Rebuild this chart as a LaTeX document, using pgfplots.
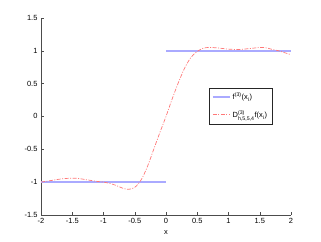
\documentclass[border=0pt]{standalone}
\usepackage{amsmath}
\usepackage{fontspec}
\setmainfont{Liberation Sans}
\usepackage{pgfplots}
\pgfplotsset{compat=1.18}
\definecolor{lblue}{RGB}{170,170,255}
\definecolor{lred}{RGB}{255,120,120}
\begin{document}
\begin{tikzpicture}
\begin{axis}[
  scale only axis,
  width=250bp, height=197bp,
  xmin=-2, xmax=2, ymin=-1.5, ymax=1.5,
  axis lines*=left,
  axis line style={gray!60!black},
  tick align=inside,
  tick style={gray!60!black},
  major tick length=3bp,
  xtick={-2,-1.5,...,2},
  ytick={-1.5,-1,...,1.5},
  font=\fontsize{7.5}{8}\selectfont,
  /pgf/number format/assume math mode=true,
  xlabel={x},
  legend style={at={(0.672,0.645)}, anchor=north west, draw=black!85,
    font=\fontsize{7.5}{8}\selectfont, row sep=5pt, inner sep=3pt},
  legend cell align=left,
  legend image code/.code={\draw[#1] (0cm,0cm) -- (0.6cm,0cm);},
  clip=false,
]
\addplot[lblue, line width=1.5pt, forget plot] coordinates {(-2,-1) (0,-1)};
\addplot[lblue, line width=1.5pt] coordinates {(0,1) (2,1)};
\addplot[lred, line width=0.7pt, dash pattern=on 4pt off 1.5pt on 1pt off 1.5pt, smooth] coordinates {
(-2.0,-1.00) (-1.9,-0.985) (-1.8,-0.97) (-1.7,-0.955) (-1.6,-0.945) (-1.5,-0.94)
(-1.4,-0.945) (-1.3,-0.96) (-1.2,-0.975) (-1.1,-0.99) (-1.0,-1.00) (-0.9,-1.02)
(-0.8,-1.05) (-0.7,-1.09) (-0.6,-1.11) (-0.5,-1.08) (-0.4,-0.97) (-0.3,-0.77)
(-0.2,-0.51) (-0.1,-0.25) (0.0,0.0) (0.1,0.27) (0.2,0.52) (0.3,0.74) (0.4,0.90)
(0.5,0.99) (0.6,1.04) (0.7,1.05) (0.8,1.045) (0.9,1.035) (1.0,1.025) (1.1,1.02)
(1.2,1.02) (1.3,1.03) (1.4,1.04) (1.5,1.05) (1.6,1.045) (1.7,1.02) (1.8,1.0)
(1.9,0.97) (2.0,0.94)};
\legend{$\text{f}^{\text{(3)}}\text{(x}_{\text{i}}\text{)}$, $\text{D}^{\text{(3)}}_{\text{h,5,5,4}}\text{f(x}_{\text{i}}\text{)}$}
\path[use as bounding box] (rel axis cs:-0.164,-0.137) rectangle (rel axis cs:1.12,1.091);
\end{axis}
\end{tikzpicture}
\end{document}
